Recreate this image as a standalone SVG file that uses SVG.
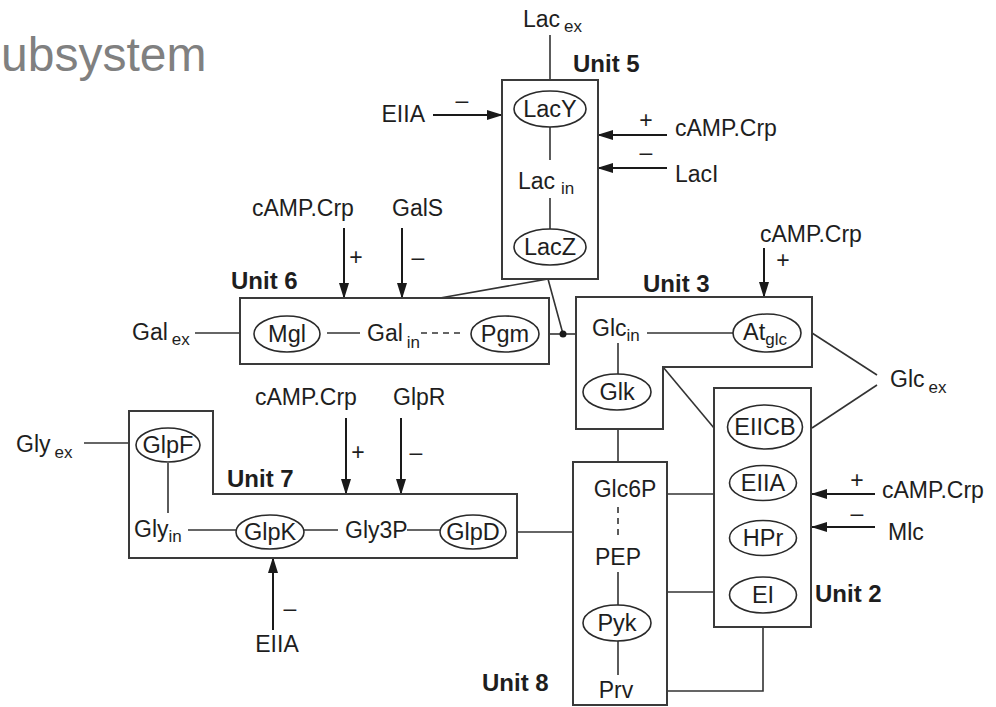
<svg xmlns="http://www.w3.org/2000/svg" width="996" height="707" viewBox="0 0 996 707">
<defs>
<marker id="arr" markerUnits="userSpaceOnUse" markerWidth="16" markerHeight="10" refX="15" refY="5" orient="auto">
<path d="M0,0 L16,5 L0,10 Z" fill="#1a1a1a"/>
</marker>
<style>
text{font-family:"Liberation Sans",Arial,sans-serif;font-size:23px;fill:#1e1e1e}
.sub{font-size:17px}
.u{font-weight:bold;font-size:24px}
.m{text-anchor:middle}
.box{fill:none;stroke:#3a3a3a;stroke-width:2}
.ell{fill:#fff;stroke:#2a2a2a;stroke-width:1.6}
.ln{fill:none;stroke:#333;stroke-width:1.6}
.dash{fill:none;stroke:#333;stroke-width:1.6;stroke-dasharray:6,5}
.ar{fill:none;stroke:#1a1a1a;stroke-width:2;marker-end:url(#arr)}
.sg{font-size:23.5px}
</style>
</defs>
<rect width="996" height="707" fill="#fff"/>
<text x="1" y="71" style="font-size:48px;fill:#808080">ubsystem</text>

<g id="connectors">
<line class="ln" x1="550" y1="35" x2="550" y2="80"/>
<line class="ln" x1="550" y1="127" x2="550" y2="160"/>
<line class="ln" x1="550" y1="198" x2="550" y2="229"/>
<line class="ar" x1="433" y1="115" x2="502" y2="115"/>
<line class="ar" x1="667" y1="135" x2="598" y2="135"/>
<line class="ar" x1="667" y1="168" x2="598" y2="168"/>
<polyline class="ln" points="440,298 548,279 563,334"/>
<line class="ln" x1="195" y1="333" x2="240" y2="333"/>
<line class="ln" x1="327" y1="333" x2="360" y2="333"/>
<line class="dash" x1="421" y1="333" x2="461" y2="333"/>
<line class="ln" x1="549" y1="334" x2="576" y2="334"/>
<circle cx="563" cy="334" r="3.5" fill="#1a1a1a"/>
<line class="ar" x1="344" y1="228" x2="344" y2="298"/>
<line class="ar" x1="402" y1="228" x2="402" y2="298"/>
<line class="ar" x1="764" y1="248" x2="764" y2="297"/>
<line class="ln" x1="647" y1="333" x2="733" y2="333"/>
<line class="ln" x1="618" y1="343" x2="618" y2="374"/>
<line class="ln" x1="663" y1="367" x2="714" y2="428"/>
<polyline class="ln" points="812,333 877,375"/>
<polyline class="ln" points="812,428 877,385"/>
<line class="ln" x1="618" y1="429" x2="618" y2="462"/>
<line class="ar" x1="875" y1="494" x2="812" y2="494"/>
<line class="ar" x1="875" y1="527" x2="812" y2="527"/>
<line class="ln" x1="667" y1="494" x2="714" y2="494"/>
<line class="ln" x1="667" y1="592" x2="714" y2="592"/>
<polyline class="ln" points="667,691 763,691 763,627"/>
<line class="dash" x1="618" y1="507" x2="618" y2="540"/>
<line class="ln" x1="618" y1="572" x2="618" y2="605"/>
<line class="ln" x1="618" y1="641" x2="618" y2="675"/>
<line class="ln" x1="84" y1="443" x2="129" y2="443"/>
<line class="ln" x1="168" y1="463" x2="168" y2="513"/>
<line class="ln" x1="188" y1="530" x2="236" y2="530"/>
<line class="ln" x1="304" y1="530" x2="338" y2="530"/>
<line class="ln" x1="407" y1="530" x2="440" y2="530"/>
<line class="ln" x1="517" y1="532" x2="573" y2="532"/>
<line class="ar" x1="346" y1="418" x2="346" y2="494"/>
<line class="ar" x1="401" y1="418" x2="401" y2="494"/>
<line class="ar" x1="273" y1="630" x2="273" y2="558"/>
</g>

<g id="labels">
<text x="523" y="27">Lac<tspan class="sub" dx="4" dy="5">ex</tspan></text>
<text x="425" y="122" style="text-anchor:end">EIIA</text>
<text x="462" y="108" class="m">–</text>
<text x="675" y="136">cAMP.Crp</text>
<text x="646" y="128" class="m">+</text>
<text x="675" y="182">LacI</text>
<text x="646" y="160" class="m">–</text>
<text x="252" y="216">cAMP.Crp</text>
<text x="392" y="216">GalS</text>
<text x="356" y="265" class="m">+</text>
<text x="418" y="265" class="m">–</text>
<text x="132" y="340">Gal<tspan class="sub" dx="4" dy="5">ex</tspan></text>
<text x="760" y="242">cAMP.Crp</text>
<text x="783" y="268" class="m">+</text>
<text x="890" y="387">Glc<tspan class="sub" dx="4" dy="6">ex</tspan></text>
<text x="882" y="498">cAMP.Crp</text>
<text x="857" y="488" class="m">+</text>
<text x="888" y="540">Mlc</text>
<text x="857" y="521" class="m">–</text>
<text x="16" y="452">Gly<tspan class="sub" dx="4" dy="6">ex</tspan></text>
<text x="255" y="405">cAMP.Crp</text>
<text x="393" y="405">GlpR</text>
<text x="358" y="460" class="m">+</text>
<text x="416" y="460" class="m">–</text>
<text x="290" y="616" class="m">–</text>
<text x="277" y="652" class="m">EIIA</text>
</g>

<g id="unit5">
<rect class="box" x="502" y="80" width="96" height="199"/>
<text x="573" y="72" class="u">Unit 5</text>
<ellipse class="ell" cx="550" cy="109" rx="36" ry="18"/>
<text x="550" y="117" class="m sg">LacY</text>
<text x="518" y="189">Lac<tspan class="sub" dx="6" dy="5">in</tspan></text>
<ellipse class="ell" cx="550" cy="247" rx="36" ry="18"/>
<text x="550" y="255" class="m sg">LacZ</text>
</g>

<g id="unit6">
<rect class="box" x="240" y="298" width="309" height="66"/>
<text x="231" y="289" class="u">Unit 6</text>
<ellipse class="ell" cx="287" cy="334" rx="33" ry="18"/>
<text x="287" y="342" class="m sg">Mgl</text>
<text x="367" y="341">Gal<tspan class="sub" dx="4" dy="7">in</tspan></text>
<ellipse class="ell" cx="505" cy="334" rx="34" ry="18"/>
<text x="505" y="342" class="m sg">Pgm</text>
</g>

<g id="unit3">
<path class="box" d="M576,297 H812 V367 H663 V429 H576 Z"/>
<text x="643" y="292" class="u">Unit 3</text>
<text x="592" y="336">Glc<tspan class="sub" dy="5">in</tspan></text>
<ellipse class="ell" cx="767" cy="333" rx="34" ry="19"/>
<text x="743" y="340" class="sg">At<tspan class="sub" dy="5">glc</tspan></text>
<ellipse class="ell" cx="617" cy="392" rx="34" ry="18"/>
<text x="617" y="400" class="m sg">Glk</text>
</g>

<g id="unit2">
<rect class="box" x="714" y="388" width="97" height="239"/>
<text x="815" y="602" class="u">Unit 2</text>
<ellipse class="ell" cx="765" cy="427" rx="37.5" ry="22"/>
<text x="765" y="435" class="m sg">EIICB</text>
<ellipse class="ell" cx="763" cy="483" rx="33.5" ry="17.5"/>
<text x="763" y="491" class="m sg">EIIA</text>
<ellipse class="ell" cx="763" cy="538" rx="33.5" ry="17.5"/>
<text x="763" y="546" class="m sg">HPr</text>
<ellipse class="ell" cx="763" cy="595" rx="33.5" ry="18"/>
<text x="763" y="603" class="m sg">EI</text>
</g>

<g id="unit8">
<rect class="box" x="573" y="462" width="94" height="243"/>
<text x="482" y="691" class="u">Unit 8</text>
<text x="625" y="497" class="m">Glc6P</text>
<text x="618" y="565" class="m">PEP</text>
<ellipse class="ell" cx="617" cy="623" rx="34" ry="18"/>
<text x="617" y="631" class="m sg">Pyk</text>
<text x="616" y="698" class="m">Prv</text>
</g>

<g id="unit7">
<path class="box" d="M129,411 H213 V494 H517 V558 H129 Z"/>
<text x="227" y="487" class="u">Unit 7</text>
<ellipse class="ell" cx="168" cy="445" rx="32" ry="17"/>
<text x="168" y="453" class="m sg">GlpF</text>
<text x="134" y="537">Gly<tspan class="sub" dy="5">in</tspan></text>
<ellipse class="ell" cx="270" cy="532" rx="34" ry="17"/>
<text x="270" y="540" class="m sg">GlpK</text>
<text x="345" y="538">Gly3P</text>
<ellipse class="ell" cx="473" cy="532" rx="33" ry="17"/>
<text x="473" y="540" class="m sg">GlpD</text>
</g>
</svg>
